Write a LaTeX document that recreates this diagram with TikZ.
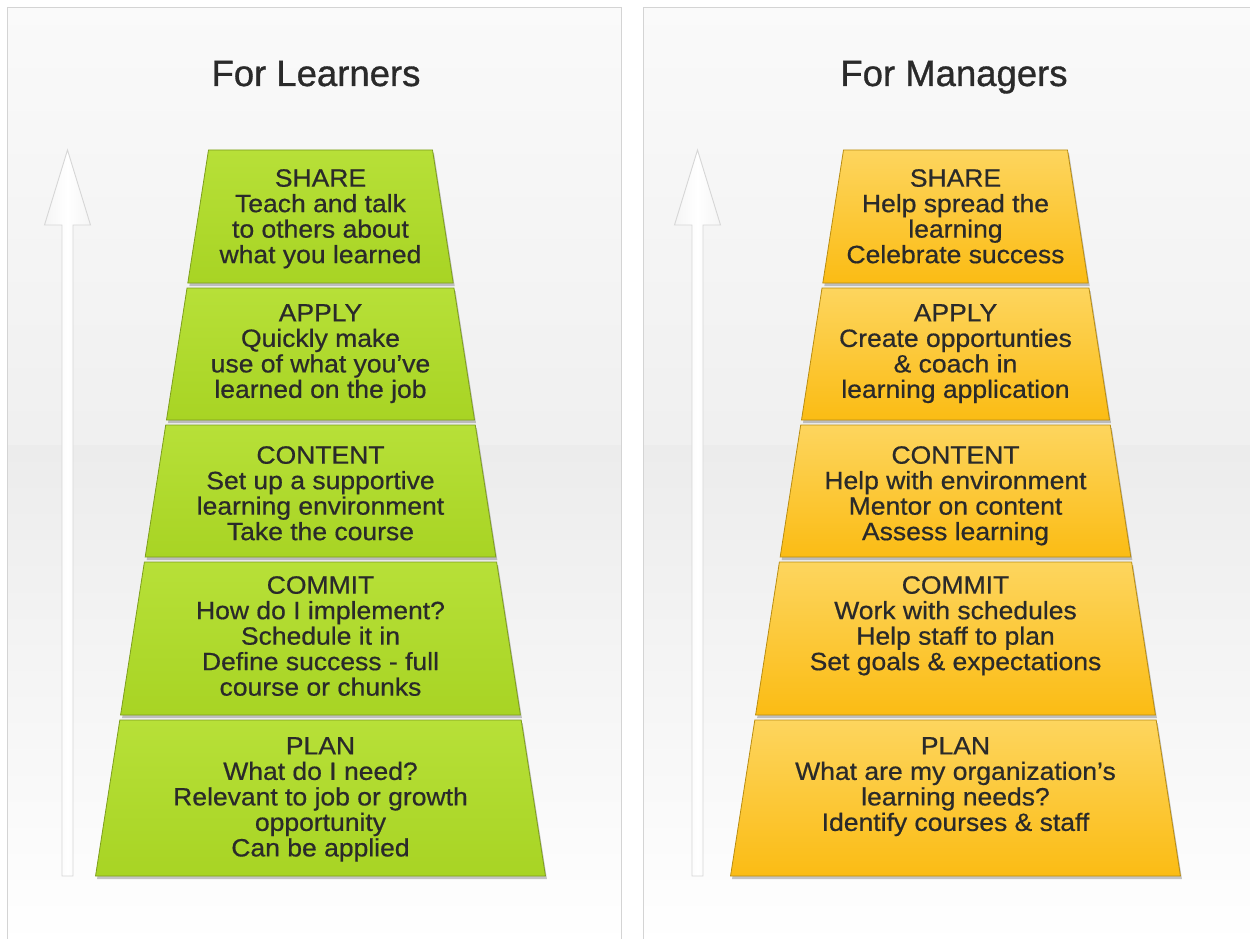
\documentclass[tikz,border=0pt]{standalone}
\usepackage{fontspec}
\setmainfont{Liberation Sans}[FakeBold=0.7]
\newfontfamily\boxfont[FakeStretch=1.06,FakeBold=0.6]{Liberation Sans}
\newfontfamily\titlefont[FakeBold=0.9]{Liberation Sans}
\usetikzlibrary{calc}
\definecolor{txt}{HTML}{2A2A2A}
\definecolor{panelline}{HTML}{D4D4D4}
\definecolor{gtop}{HTML}{B7E038}
\definecolor{gbot}{HTML}{A8D424}
\definecolor{gline}{HTML}{7E9E1E}
\definecolor{otop}{HTML}{FDD55E}
\definecolor{obot}{HTML}{FBBC14}
\definecolor{oline}{HTML}{B98D12}
\definecolor{arrline}{HTML}{D6D6D6}
\newcommand\trapbox[4]{%
  \fill[black,opacity=.22,shift={(1.5,3)}]
    ({#1-112-0.1556*(#2-150)},#2) -- ({#1+112+0.1556*(#2-150)},#2) --
    ({#1+112+0.1556*(#3-150)},#3) -- ({#1-112-0.1556*(#3-150)},#3) -- cycle;
  \path[#4]
    ({#1-112-0.1556*(#2-150)},#2) -- ({#1+112+0.1556*(#2-150)},#2) --
    ({#1+112+0.1556*(#3-150)},#3) -- ({#1-112-0.1556*(#3-150)},#3) -- cycle;}
\newcommand\uparr[1]{%
  \path[arrowshape] (#1,150) -- ({#1+23},225) -- ({#1+5.5},225) -- ({#1+5.5},876)
    -- ({#1-5.5},876) -- ({#1-5.5},225) -- ({#1-23},225) -- cycle;}
\begin{document}
\begin{tikzpicture}[x=1pt,y=-1pt,
  greenbox/.style={draw=gline,line width=0.8pt,top color=gtop,bottom color=gbot},
  orangebox/.style={draw=oline,line width=0.8pt,top color=otop,bottom color=obot},
  arrowshape/.style={draw=arrline,line width=0.9pt,left color=white!96!black,right color=white!96!black,middle color=white},
  boxtext/.style={anchor=north,align=center,inner sep=0pt,text=txt,font=\boxfont\fontsize{25}{25.5}\selectfont},
  title/.style={anchor=base,inner sep=0pt,text=txt,font=\titlefont\fontsize{36.5}{40}\selectfont}]
\useasboundingbox (0,0) rectangle (1250,939);
\fill[white] (0,0) rectangle (1250,939);
% panels
\shade[top color=white!98!black,bottom color=white!94!black] (7.5,7.5) rectangle (621.5,445);
\shade[top color=white!92.5!black,bottom color=white] (7.5,445) rectangle (621.5,945);
\draw[panelline,line width=1pt] (7.5,945) -- (7.5,7.5) -- (621.5,7.5) -- (621.5,945);
\shade[top color=white!98!black,bottom color=white!94!black] (643.5,7.5) rectangle (1260,445);
\shade[top color=white!92.5!black,bottom color=white] (643.5,445) rectangle (1260,945);
\draw[panelline,line width=1pt] (643.5,945) -- (643.5,7.5) -- (1260,7.5);
% titles
\node[title] (tl) at (316,86) {For Learners};
\node[title] (tm) at (954,86) {For Managers};
% arrows
\uparr{67.5}
\uparr{697.5}
% left pyramid
\trapbox{320.5}{150}{283}{greenbox}
\trapbox{320.5}{288}{420}{greenbox}
\trapbox{320.5}{425}{557}{greenbox}
\trapbox{320.5}{562}{715}{greenbox}
\trapbox{320.5}{720}{876}{greenbox}
% right pyramid
\trapbox{955.5}{150}{283}{orangebox}
\trapbox{955.5}{288}{420}{orangebox}
\trapbox{955.5}{425}{557}{orangebox}
\trapbox{955.5}{562}{715}{orangebox}
\trapbox{955.5}{720}{876}{orangebox}
% left texts
\node[boxtext] (ls) at (320.5,169) {SHARE\\Teach and talk\\to others about\\what you learned};
\node[boxtext] (la) at (320.5,304) {APPLY\\Quickly make\\use of what you’ve\\learned on the job};
\node[boxtext] (lc) at (320.5,446) {CONTENT\\Set up a supportive\\learning environment\\Take the course};
\node[boxtext] (lm) at (320.5,576) {COMMIT\\How do I implement?\\Schedule it in\\Define success - full\\course or chunks};
\node[boxtext] (lp) at (320.5,737) {PLAN\\What do I need?\\Relevant to job or growth\\opportunity\\Can be applied};
% right texts
\node[boxtext] (rs) at (955.5,169) {SHARE\\Help spread the\\learning\\Celebrate success};
\node[boxtext] (ra) at (955.5,304) {APPLY\\Create opportunties\\\& coach in\\learning application};
\node[boxtext] (rc) at (955.5,446) {CONTENT\\Help with environment\\Mentor on content\\Assess learning};
\node[boxtext] (rm) at (955.5,576) {COMMIT\\Work with schedules\\Help staff to plan\\Set goals \& expectations};
\node[boxtext] (rp) at (955.5,737) {PLAN\\What are my organization’s\\learning needs?\\Identify courses \& staff};
\end{tikzpicture}
\end{document}
